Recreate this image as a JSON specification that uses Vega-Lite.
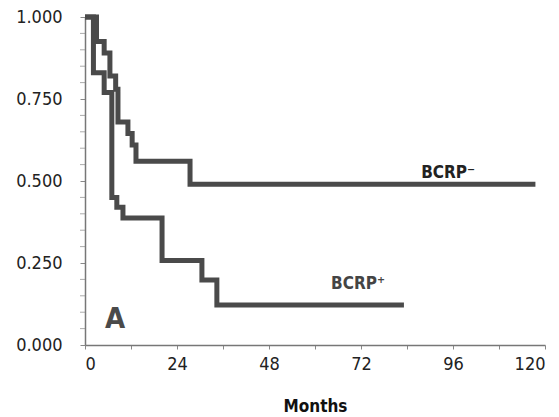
{
  "$schema": "https://vega.github.io/schema/vega-lite/v6.json",
  "width": 460,
  "height": 328,
  "autosize": "none",
  "padding": {"left": 85, "top": 17, "right": 14, "bottom": 72},
  "background": "white",
  "config": {"view": {"stroke": null}, "font": "DejaVu Sans Condensed"},
  "datasets": {
    "curves": [
      {"group": "neg", "month": 0, "surv": 1.0},
      {"group": "neg", "month": 3.0, "surv": 0.925},
      {"group": "neg", "month": 5.0, "surv": 0.89},
      {"group": "neg", "month": 6.5, "surv": 0.82},
      {"group": "neg", "month": 8.0, "surv": 0.78},
      {"group": "neg", "month": 8.6, "surv": 0.68},
      {"group": "neg", "month": 11.2, "surv": 0.645},
      {"group": "neg", "month": 12.3, "surv": 0.61},
      {"group": "neg", "month": 13.3, "surv": 0.56},
      {"group": "neg", "month": 27.4, "surv": 0.49},
      {"group": "neg", "month": 117.5, "surv": 0.49},
      {"group": "pos", "month": 0, "surv": 1.0},
      {"group": "pos", "month": 2.2, "surv": 0.83},
      {"group": "pos", "month": 5.0, "surv": 0.77},
      {"group": "pos", "month": 7.0, "surv": 0.45},
      {"group": "pos", "month": 8.3, "surv": 0.42},
      {"group": "pos", "month": 9.9, "surv": 0.387},
      {"group": "pos", "month": 20.1, "surv": 0.258},
      {"group": "pos", "month": 30.5, "surv": 0.198},
      {"group": "pos", "month": 34.4, "surv": 0.122},
      {"group": "pos", "month": 83.2, "surv": 0.122}
    ],
    "minor": [
      {"month": 0, "surv": 0.05}, {"month": 0, "surv": 0.1}, {"month": 0, "surv": 0.15}, {"month": 0, "surv": 0.2},
      {"month": 0, "surv": 0.3}, {"month": 0, "surv": 0.35}, {"month": 0, "surv": 0.4}, {"month": 0, "surv": 0.45},
      {"month": 0, "surv": 0.55}, {"month": 0, "surv": 0.6}, {"month": 0, "surv": 0.65}, {"month": 0, "surv": 0.7},
      {"month": 0, "surv": 0.8}, {"month": 0, "surv": 0.85}, {"month": 0, "surv": 0.9}, {"month": 0, "surv": 0.95}
    ],
    "labels": [
      {"label": "BCRP⁻", "month": 87.7, "surv": 0.509, "kind": "neg"},
      {"label": "BCRP⁺", "month": 64.2, "surv": 0.171, "kind": "pos"}
    ],
    "panel": [
      {"label": "A", "month": 5.2, "surv": 0.052}
    ]
  },
  "layer": [
    {
      "data": {"name": "curves"},
      "mark": {"type": "line", "interpolate": "step-after", "strokeWidth": 5, "color": "#4a4a4a", "strokeJoin": "miter", "strokeCap": "butt"},
      "encoding": {
        "x": {
          "field": "month", "type": "quantitative",
          "scale": {"domain": [0, 120], "nice": false, "zero": false},
          "axis": {
            "values": [0, 12, 24, 36, 48, 60, 72, 84, 96, 108, 120],
            "labelExpr": "datum.value % 24 == 0 ? datum.label : ''",
            "labelFontSize": 18,
            "title": "Months",
            "titleFont": "DejaVu Sans Condensed",
            "titleFontWeight": "bold",
            "titleFontSize": 17,
            "titleColor": "#111",
            "titleBaseline": "alphabetic",
            "titleY": 66,
            "labelFont": "DejaVu Sans Condensed",
            "labelColor": "#222",
            "labelPadding": 6,
            "labelFlush": true,
            "labelOverlap": false,
            "tickSize": 4,
            "tickColor": "#888",
            "domainColor": "#777",
            "domainWidth": 1.5,
            "grid": false
          }
        },
        "y": {
          "field": "surv", "type": "quantitative",
          "scale": {"domain": [0, 1], "nice": false},
          "axis": {
            "values": [0, 0.25, 0.5, 0.75, 1.0],
            "format": ".3f",
            "title": null,
            "labelFont": "DejaVu Sans Condensed",
            "labelFontSize": 18,
            "labelColor": "#222",
            "labelPadding": 18,
            "labelFlush": false,
            "labelOverlap": false,
            "tickSize": 5,
            "tickColor": "#888",
            "domainColor": "#777",
            "domainWidth": 1.5,
            "grid": false
          }
        },
        "detail": {"field": "group"}
      }
    },
    {
      "data": {"name": "minor"},
      "mark": {"type": "tick", "orient": "horizontal", "size": 5, "thickness": 1, "xOffset": -2.5, "color": "#888", "clip": false},
      "encoding": {
        "x": {"field": "month", "type": "quantitative"},
        "y": {"field": "surv", "type": "quantitative"}
      }
    },
    {
      "data": {"name": "labels"},
      "mark": {"type": "text", "align": "left", "baseline": "alphabetic", "font": "DejaVu Sans Condensed", "fontWeight": "bold", "fontSize": 17},
      "encoding": {
        "x": {"field": "month", "type": "quantitative"},
        "y": {"field": "surv", "type": "quantitative"},
        "text": {"field": "label"},
        "color": {"field": "kind", "type": "nominal", "scale": {"domain": ["neg", "pos"], "range": ["#222222", "#444444"]}, "legend": null}
      }
    },
    {
      "data": {"name": "panel"},
      "mark": {"type": "text", "align": "left", "baseline": "alphabetic", "font": "DejaVu Sans Condensed", "fontWeight": "bold", "fontSize": 29, "color": "#4a4a4a"},
      "encoding": {
        "x": {"field": "month", "type": "quantitative"},
        "y": {"field": "surv", "type": "quantitative"},
        "text": {"field": "label"}
      }
    }
  ]
}
